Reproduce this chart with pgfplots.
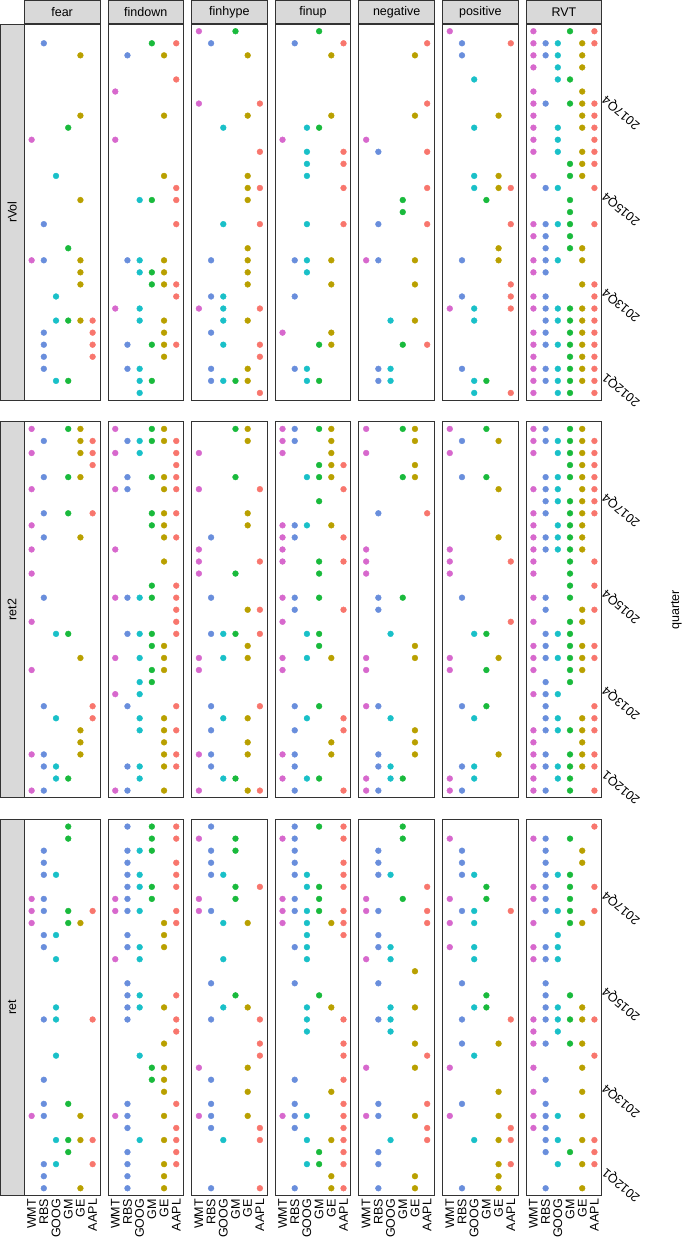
\documentclass[border=0pt]{standalone}
\usepackage{pgfplots}
\pgfplotsset{compat=1.18}
\usepgfplotslibrary{groupplots}
\usetikzlibrary{calc}
\usepackage{fontspec}
\setmainfont{Liberation Sans}
\definecolor{stripfill}{HTML}{D9D9D9}
\definecolor{bord}{HTML}{333333}
\newcommand{\pts}[1]{\addplot[scatter, only marks, mark=*, mark size=2.9pt, point meta=x,
  scatter/use mapped color={draw=mapped color, fill=mapped color}] coordinates {#1};}
\pgfplotsset{
  bottomrow/.style={xticklabels={WMT,RBS,GOOG,GM,GE,AAPL}},
  rightcol/.style={yticklabel pos=right, yticklabels={2012Q1,2013Q4,2015Q4,2017Q4}},
}
\begin{document}
\begin{tikzpicture}[font=\fontsize{12.5}{15}\selectfont]
\begin{groupplot}[group style={group size=7 by 3, horizontal sep=8pt, vertical sep=21.5pt},
  width=75.6pt, height=376pt, scale only axis,
  xmin=-0.6, xmax=5.6, ymin=-0.6, ymax=30.6,
  xtick={0,...,5}, ytick={1,8,16,24}, xticklabels={}, yticklabels={},
  major tick length=0pt,
  axis line style={draw=bord, line width=0.7pt},
  colormap={gg}{rgb255=(215,104,205) rgb255=(105,142,220) rgb255=(25,192,200) rgb255=(25,186,60) rgb255=(185,160,0) rgb255=(248,118,109)},
  point meta min=0, point meta max=5,
  xticklabel style={rotate=90, anchor=east, font=\fontsize{12.5}{15}\selectfont},
  yticklabel style={yshift=8pt, rotate=140, anchor=east, font=\fontsize{12.5}{15}\selectfont},
]
% ---------- row 1: rVol ----------
\nextgroupplot
\pts{(1,29)(4,28)(4,23)(3,22)(0,21)(2,18)(4,16)(1,14)(3,12)(0,11)(1,11)(4,11)(4,10)(4,9)(2,8)(2,6)(3,6)(4,6)(5,6)(1,5)(5,5)(1,4)(5,4)(1,3)(5,3)(1,2)(2,1)(3,1)}
\nextgroupplot
\pts{(3,29)(5,29)(1,28)(4,28)(5,26)(0,25)(4,23)(0,21)(4,18)(5,17)(2,16)(3,16)(5,16)(5,14)(1,11)(2,11)(4,11)(2,10)(3,10)(4,10)(3,9)(4,9)(5,9)(5,8)(0,7)(2,7)(2,6)(4,6)(4,5)(1,4)(3,4)(4,4)(5,4)(4,3)(1,2)(2,2)(2,1)(3,1)(2,0)}
\nextgroupplot
\pts{(0,30)(3,30)(1,29)(4,28)(0,24)(5,24)(4,23)(2,22)(5,20)(4,18)(4,17)(5,17)(4,16)(2,14)(5,14)(4,12)(1,11)(4,11)(4,10)(4,9)(1,8)(2,8)(0,7)(2,7)(5,7)(2,6)(4,6)(1,5)(2,4)(5,4)(5,3)(1,2)(4,2)(1,1)(2,1)(3,1)(4,1)(5,0)}
\nextgroupplot
\pts{(3,30)(1,29)(5,29)(4,28)(4,23)(2,22)(3,22)(0,21)(2,20)(5,20)(2,19)(5,19)(2,18)(5,17)(2,14)(5,14)(1,11)(2,11)(4,11)(2,10)(4,9)(1,8)(0,5)(4,5)(3,4)(4,4)(1,2)(2,2)(2,1)(3,1)}
\nextgroupplot
\pts{(5,29)(4,28)(5,24)(4,23)(0,21)(1,20)(5,20)(5,17)(3,16)(3,15)(1,14)(5,14)(0,11)(1,11)(4,11)(4,9)(2,6)(4,6)(3,4)(5,4)(1,2)(2,2)(1,1)(2,1)}
\nextgroupplot
\pts{(0,30)(1,29)(5,29)(1,28)(2,26)(4,23)(2,22)(2,18)(4,18)(2,17)(4,17)(5,17)(3,16)(5,14)(4,12)(1,11)(4,11)(5,9)(1,8)(5,8)(0,7)(2,7)(5,7)(2,6)(1,2)(2,1)(3,1)(2,0)(5,0)}
\nextgroupplot[rightcol]
\pts{(0,30)(3,30)(5,30)(0,29)(1,29)(2,29)(4,29)(5,29)(0,28)(1,28)(2,28)(4,28)(0,27)(2,27)(4,27)(2,26)(3,26)(0,25)(4,25)
(0,24)(1,24)(3,24)(4,24)(5,24)(0,23)(4,23)(5,23)(0,22)(2,22)(4,22)(5,22)(0,21)(2,21)(5,21)(0,20)(2,20)(4,20)(5,20)
(3,19)(4,19)(5,19)(0,18)(3,18)(4,18)(1,17)(2,17)(5,17)(3,16)(3,15)(0,14)(1,14)(2,14)(3,14)(5,14)(0,13)(1,13)(3,13)
(1,12)(3,12)(4,12)(0,11)(1,11)(2,11)(4,11)(0,10)(1,10)(4,9)(5,9)(0,8)(1,8)(5,8)
(0,7)(1,7)(2,7)(3,7)(4,7)(5,7)(1,6)(2,6)(3,6)(4,6)(5,6)(0,5)(1,5)(3,5)(4,5)(5,5)
(0,4)(1,4)(2,4)(3,4)(4,4)(5,4)(0,3)(3,3)(4,3)(5,3)(0,2)(1,2)(2,2)(3,2)(4,2)(5,2)
(0,1)(1,1)(2,1)(3,1)(4,1)(5,1)(0,0)(2,0)(3,0)(5,0)}
% ---------- row 2: ret2 ----------
\nextgroupplot
\pts{(0,30)(3,30)(4,30)(1,29)(4,29)(5,29)(0,28)(4,28)(5,28)(5,27)(1,26)(3,26)(4,26)(0,25)(1,23)(3,23)(5,23)(0,22)(1,21)(4,21)(0,20)(0,18)(1,16)(0,14)(2,13)(3,13)(4,11)(0,10)(1,7)(5,7)(2,6)(5,6)(4,5)(4,4)(0,3)(1,3)(4,3)(1,2)(2,2)(2,1)(3,1)(0,0)(1,0)}
\nextgroupplot
\pts{(0,30)(3,30)(4,30)(1,29)(2,29)(3,29)(4,29)(5,29)(0,28)(2,28)(5,28)(5,27)(1,26)(3,26)(4,26)(5,26)(0,25)(1,25)(4,25)(5,25)(3,23)(4,23)(5,23)(3,22)(4,22)(4,21)(5,21)(0,20)(4,19)(3,17)(5,17)(0,16)(1,16)(2,16)(3,16)(5,16)(5,15)(5,14)(1,13)(2,13)(3,13)(5,13)(3,12)(4,12)(0,11)(2,11)(4,11)(3,10)(4,10)(2,9)(3,9)(0,8)(2,8)(1,7)(5,7)(2,6)(4,6)(2,5)(4,5)(5,5)(4,4)(4,3)(5,3)(1,2)(2,2)(4,2)(5,2)(2,1)(0,0)(1,0)(4,0)}
\nextgroupplot
\pts{(3,30)(4,30)(4,29)(0,28)(3,26)(0,25)(5,25)(4,23)(4,22)(1,21)(0,20)(0,19)(5,19)(0,18)(3,18)(1,16)(4,15)(5,15)(1,13)(2,13)(3,13)(5,13)(4,12)(0,11)(2,11)(4,11)(0,10)(1,7)(5,7)(2,6)(4,6)(1,5)(4,4)(0,3)(1,3)(4,3)(1,2)(2,1)(3,1)(0,0)(4,0)(5,0)}
\nextgroupplot
\pts{(0,30)(1,30)(3,30)(4,30)(0,29)(1,29)(4,29)(0,28)(4,28)(3,27)(4,27)(5,27)(2,26)(3,26)(4,26)(5,25)(3,24)(0,22)(1,22)(2,22)(4,22)(0,21)(1,21)(5,21)(0,20)(0,19)(3,19)(5,19)(3,18)(0,16)(1,16)(3,16)(1,15)(5,15)(0,14)(2,13)(3,13)(3,12)(0,11)(2,11)(4,11)(0,10)(1,7)(3,7)(2,6)(5,6)(1,5)(5,5)(4,4)(0,3)(1,3)(4,3)(1,2)(0,1)(2,1)(3,1)(1,0)(5,0)}
\nextgroupplot
\pts{(0,30)(3,30)(4,30)(4,29)(0,28)(4,27)(3,26)(4,26)(1,23)(5,23)(0,20)(0,19)(0,18)(1,16)(3,16)(1,15)(2,13)(4,12)(0,11)(4,11)(0,10)(0,7)(1,7)(2,6)(4,5)(4,4)(1,3)(4,3)(1,2)(2,2)(0,1)(2,1)(3,1)(0,0)(1,0)}
\nextgroupplot
\pts{(0,30)(3,30)(1,29)(4,29)(0,28)(1,26)(3,26)(4,25)(4,21)(0,20)(0,19)(5,19)(0,18)(1,16)(5,14)(2,13)(3,13)(0,11)(4,11)(0,10)(3,10)(1,7)(3,7)(2,6)(4,3)(1,2)(2,2)(0,1)(2,1)(0,0)(1,0)}
\nextgroupplot[rightcol]
\pts{(0,30)(1,30)(3,30)(4,30)(0,29)(1,29)(2,29)(3,29)(4,29)(5,29)(0,28)(2,28)(3,28)(4,28)(5,28)(3,27)(4,27)(5,27)
(1,26)(2,26)(3,26)(4,26)(5,26)(0,25)(1,25)(2,25)(4,25)(5,25)(1,24)(2,24)(3,24)(4,24)(5,24)(0,23)(1,23)(3,23)(4,23)(5,23)
(0,22)(2,22)(3,22)(4,22)(0,21)(1,21)(2,21)(3,21)(4,21)(0,20)(1,20)(2,20)(3,20)(4,20)(0,19)(3,19)(5,19)(0,18)(3,18)
(3,17)(5,17)(0,16)(1,16)(3,16)(1,15)(4,15)(5,15)(0,14)(3,14)(4,14)(1,13)(2,13)(3,13)(0,12)(1,12)(3,12)(4,12)(5,12)
(0,11)(1,11)(2,11)(3,11)(4,11)(5,11)(0,10)(3,10)(4,10)(1,9)(3,9)(0,8)(1,8)(2,8)(1,7)(5,7)(1,6)(2,6)(4,6)(5,6)
(0,5)(1,5)(2,5)(3,5)(4,5)(5,5)(0,4)(4,4)(0,3)(1,3)(3,3)(4,3)(5,3)(0,2)(1,2)(2,2)(3,2)(4,2)(5,2)(0,1)(2,1)(3,1)(0,0)(1,0)(3,0)(5,0)}
% ---------- row 3: ret ----------
\nextgroupplot[bottomrow]
\pts{(3,30)(3,29)(1,28)(1,27)(1,26)(2,26)(0,24)(1,24)(0,23)(1,23)(3,23)(5,23)(0,22)(3,22)(4,22)(1,21)(2,21)(1,20)(2,19)(2,15)(1,14)(2,14)(5,14)(2,11)(1,9)(1,7)(3,7)(0,6)(1,6)(4,6)(2,4)(3,4)(4,4)(5,4)(3,3)(1,2)(2,2)(5,2)(1,1)(1,0)(4,0)}
\nextgroupplot[bottomrow]
\pts{(1,30)(3,30)(5,30)(3,29)(5,29)(1,28)(2,28)(3,28)(1,27)(5,27)(1,26)(2,26)(5,26)(1,25)(2,25)(3,25)(5,25)(0,24)(1,24)(3,24)(0,23)(1,23)(2,23)(5,23)(4,22)(5,22)(1,21)(4,21)(1,20)(2,20)(4,20)(0,19)(2,19)(1,17)(1,16)(2,16)(5,16)(1,15)(2,15)(4,15)(1,14)(5,14)(5,13)(4,12)(2,11)(3,10)(4,10)(3,9)(4,9)(4,8)(1,7)(5,7)(0,6)(1,6)(4,6)(1,5)(5,5)(2,4)(4,4)(5,4)(1,3)(5,3)(1,2)(4,2)(5,2)(1,1)(4,1)(1,0)(4,0)}
\nextgroupplot[bottomrow]
\pts{(1,30)(0,29)(3,29)(1,28)(3,28)(1,27)(1,26)(2,26)(3,25)(5,25)(0,24)(3,24)(0,23)(1,23)(2,22)(4,22)(2,19)(1,17)(3,16)(2,15)(4,15)(1,14)(5,14)(5,12)(5,11)(0,10)(4,10)(1,9)(4,8)(1,7)(0,6)(1,6)(4,6)(1,5)(5,5)(2,4)(5,4)(1,0)(5,0)}
\nextgroupplot[bottomrow]
\pts{(1,30)(3,30)(5,30)(0,29)(1,29)(5,29)(1,28)(1,27)(5,27)(1,26)(2,26)(5,26)(2,25)(3,25)(5,25)(0,24)(1,24)(3,24)(0,23)(1,23)(2,23)(3,23)(5,23)(0,22)(2,22)(4,22)(5,22)(2,21)(5,21)(1,20)(2,20)(2,19)(1,17)(3,16)(2,15)(4,15)(2,14)(5,14)(2,13)(5,12)(5,11)(1,9)(5,9)(4,8)(1,7)(5,7)(0,6)(1,6)(2,6)(5,6)(1,5)(5,5)(2,4)(4,4)(5,4)(3,3)(5,3)(2,2)(3,2)(5,2)(4,1)(1,0)(4,0)(5,0)}
\nextgroupplot[bottomrow]
\pts{(3,30)(3,29)(1,28)(1,27)(1,26)(2,26)(5,25)(0,24)(3,24)(0,23)(1,23)(5,23)(5,22)(1,21)(1,20)(2,20)(0,19)(2,19)(4,18)(1,17)(2,15)(4,15)(1,14)(2,14)(2,13)(4,12)(5,11)(0,10)(4,10)(1,7)(5,7)(0,6)(1,6)(4,6)(5,5)(2,4)(5,4)(1,3)(1,2)(4,1)(1,0)(4,0)}
\nextgroupplot[bottomrow]
\pts{(0,29)(1,28)(1,27)(1,26)(2,26)(3,25)(0,24)(3,24)(1,23)(2,23)(5,23)(0,22)(2,22)(0,20)(2,20)(2,19)(1,17)(3,16)(2,15)(3,15)(1,14)(5,14)(1,12)(4,12)(2,11)(0,10)(4,8)(1,7)(0,6)(4,6)(5,5)(2,4)(4,4)(5,4)(4,2)(5,2)(4,1)(1,0)(4,0)}
\nextgroupplot[bottomrow, rightcol]
\pts{(5,30)(0,29)(1,29)(3,29)(1,28)(4,28)(1,27)(4,27)(1,26)(2,26)(3,26)(0,25)(1,25)(3,25)(5,25)(0,24)(1,24)(3,24)(1,23)(2,23)(3,23)(5,23)(0,22)(3,22)(4,22)(2,21)(0,20)(1,20)(2,20)(0,19)(1,19)(2,19)(1,17)(1,16)(3,16)(1,15)(2,15)(4,15)(0,14)(1,14)(2,14)(3,14)(4,14)(5,14)(0,13)(2,13)(0,12)(1,12)(3,12)(4,12)(5,11)(0,10)(4,10)(1,9)(0,8)(4,8)(1,7)(0,6)(1,6)(2,6)(4,6)(0,5)(1,5)(1,4)(2,4)(4,4)(5,4)(1,3)(3,3)(5,3)(2,2)(4,2)(5,2)(1,0)(4,0)}
\end{groupplot}
% strips
\foreach \c/\lab in {1/fear,2/findown,3/finhype,4/finup,5/negative,6/positive,7/RVT}
  \node[draw=bord, fill=stripfill, line width=0.7pt, minimum width=75.6pt, minimum height=23.5pt, inner sep=0pt, anchor=south]
    at (group c\c r1.north) {\lab};
\foreach \r/\lab in {1/rVol,2/ret2,3/ret}
  \node[draw=bord, fill=stripfill, line width=0.7pt, rotate=90, minimum width=376pt, minimum height=23.8pt, inner sep=0pt, anchor=south]
    at (group c1r\r.west) {\lab};
\node[rotate=90] at ($(group c7r2.east)+(74.7pt,0)$) {quarter};
\pgfresetboundingbox
\path[use as bounding box] ($(group c1r3.south west)+(-24.3pt,-45.5pt)$) rectangle ($(group c7r1.north east)+(84.7pt,24pt)$);
\end{tikzpicture}
\end{document}
